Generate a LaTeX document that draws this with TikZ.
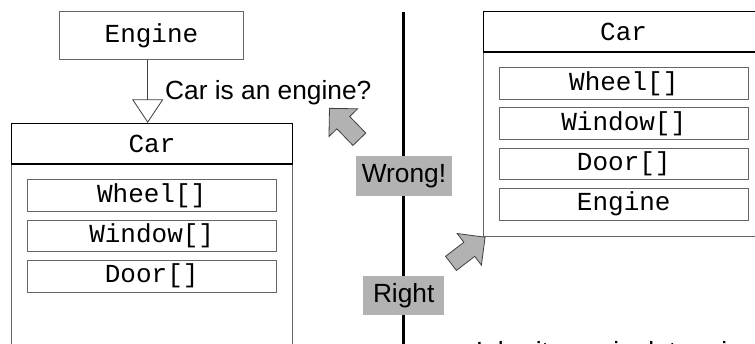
\documentclass[tikz,border=0pt]{standalone}
\usepackage{fontspec}
\setmainfont{Liberation Sans}
\setmonofont{Liberation Mono}
\usetikzlibrary{positioning,arrows.meta,shapes.arrows}
\definecolor{linegray}{gray}{0.4}
\definecolor{shadegray}{gray}{0.7}
\definecolor{edgegray}{gray}{0.25}

\begin{document}
\begin{tikzpicture}[x=1pt,y=-1pt,
  every node/.style={inner sep=0pt},
  classhead/.style={draw=black, line width=1.2pt, minimum width=280.6pt, minimum height=40.5pt, font=\fontsize{26}{30}\selectfont\ttfamily},
  classbody/.style={draw=linegray, line width=0.8pt, minimum width=280.6pt},
  member/.style={draw=linegray, line width=0.8pt, minimum width=248.7pt, minimum height=31.8pt, font=\fontsize{26}{30}\selectfont\ttfamily},
  verdict/.style={fill=shadegray, minimum height=39.5pt, font=\fontsize{26.3}{30}\selectfont},
  pointer/.style={single arrow, draw=edgegray, fill=shadegray, line width=0.8pt, inner sep=8.5pt, single arrow head extend=11pt, minimum height=43pt}]
        \useasboundingbox (0,0) rectangle (755,344);
        \clip (0,0) rectangle (755,344);
        \coordinate (divtop) at (403.3,12.3);
        \coordinate (divbot) at (403.3,360);
        \draw [line width=3pt] (divtop) -- (divbot);
        % car inherits from engine
        \node [classbody, minimum height=260pt] (carLbody) at (152,294) {};
        \node [classhead] (carLhead) at (152,143.7) {Car};
        \node [member] (wheelL) at (151.7,195.8) {Wheel[]};
        \node [member, below=7.6pt of wheelL] (windowL) {Window[]};
        \node [member, below=7.6pt of windowL] (doorL) {Door[]};
        \node [draw=linegray, line width=0.8pt, minimum width=184.4pt, minimum height=48pt, font=\fontsize{26}{30}\selectfont\ttfamily] (engine) at (151.5,35.7) {Engine};
        \coordinate (inh) at (147.7,0);
        \draw [draw=edgegray, line width=0.8pt, -{Triangle[open,length=23.4pt,width=31pt]}] (engine.south -| inh) -- (carLhead.north -| inh);
        \node [anchor=base west, font=\fontsize{26.3}{30}\selectfont] (question) at (165,99.5) {Car is an engine?};
        % car has an engine
        \node [classbody, minimum height=184.3pt] (carRbody) at (623.6,143.85) {};
        \node [classhead] (carRhead) at (623.6,31.7) {Car};
        \node [member] (wheelR) at (623.8,83.5) {Wheel[]};
        \node [member, below=7.6pt of wheelR] (windowR) {Window[]};
        \node [member, below=7.6pt of windowR] (doorR) {Door[]};
        \node [member, below=7.6pt of doorR] (engineR) {Engine};
        \node [anchor=base west, font=\fontsize{26.3}{30}\selectfont] (remark) at (475.7,360.5) {Inheritance is determined};
        \node [verdict, minimum width=96pt] (wrong) at (404,176) {Wrong!};
        \node [verdict, minimum width=81pt] (right) at (403.7,295.7) {Right};
        \node [pointer, rotate=134] (wrongarrow) at (347.5,127) {};
        \node [pointer, rotate=37.5] (rightarrow) at (464.5,253) {};
\end{tikzpicture}
\end{document}
